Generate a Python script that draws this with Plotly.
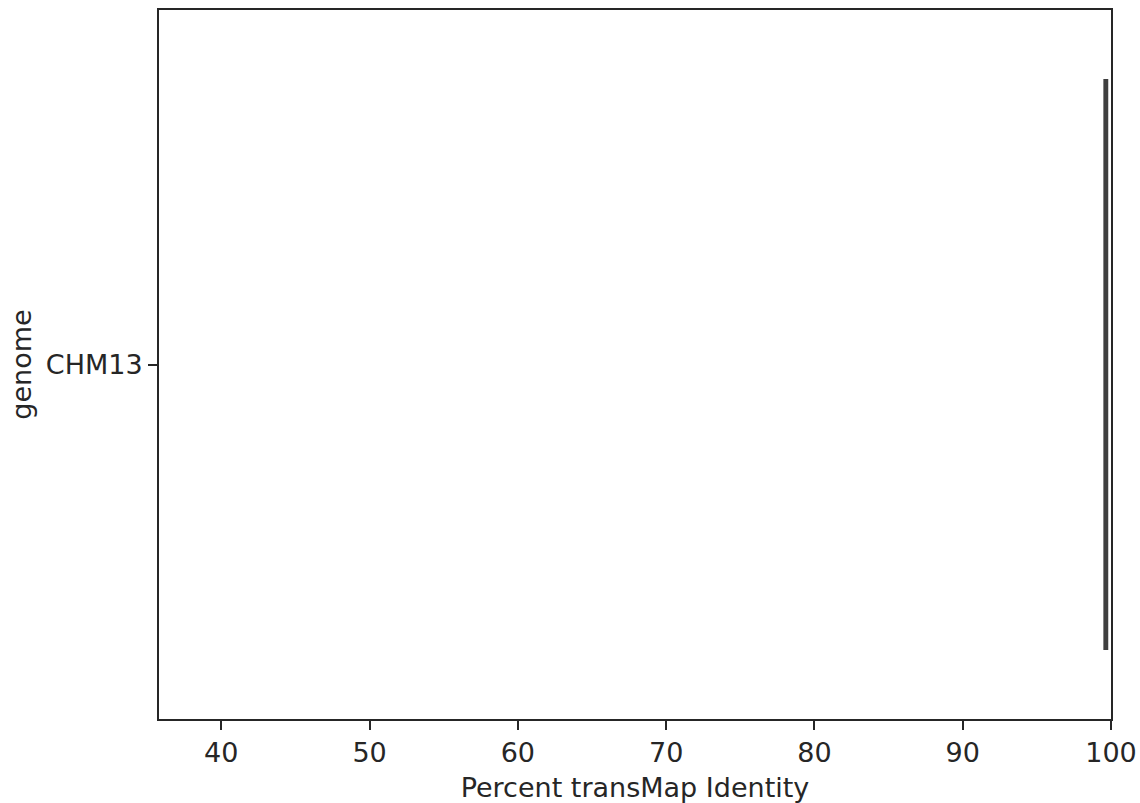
import plotly.graph_objects as go

genomes = ["CHM13"]
q1 = [99.62]
median = [99.65]
q3 = [99.68]
lower = [99.62]
upper = [99.68]

x_ticks = [40, 50, 60, 70, 80, 90, 100]

fig = go.Figure()
fig.add_trace(go.Box(
    y=genomes, q1=q1, median=median, q3=q3,
    lowerfence=lower, upperfence=upper,
    orientation="h", width=0.8,
    fillcolor="#3274a1",
    line=dict(color="#3f3f3f", width=4),
    boxpoints=False, showlegend=False,
))

axis_common = dict(
    showline=True, linecolor="#262626", linewidth=2, mirror=True,
    ticks="outside", ticklen=9, tickwidth=2, tickcolor="#262626",
    showgrid=False, zeroline=False, automargin=False,
    tickfont=dict(family="DejaVu Sans", size=27, color="#262626"),
)

fig.update_layout(
    width=1140, height=803,
    margin=dict(l=159, r=29, t=10, b=84),
    plot_bgcolor="white", paper_bgcolor="white",
    font=dict(family="DejaVu Sans", size=27, color="#262626"),
    xaxis=dict(range=[35.8, 100], tickvals=x_ticks,
               title=dict(text="Percent transMap Identity", standoff=12,
                          font=dict(size=27)),
               **axis_common),
    yaxis=dict(range=[-0.5, 0.5], type="category",
               title=dict(text="genome", standoff=6, font=dict(size=27)),
               **axis_common),
)

fig.write_html(
    "out.html",
    config={"displayModeBar": False},
    post_script="document.body.style.margin='0px';document.body.style.overflow='hidden';",
)
